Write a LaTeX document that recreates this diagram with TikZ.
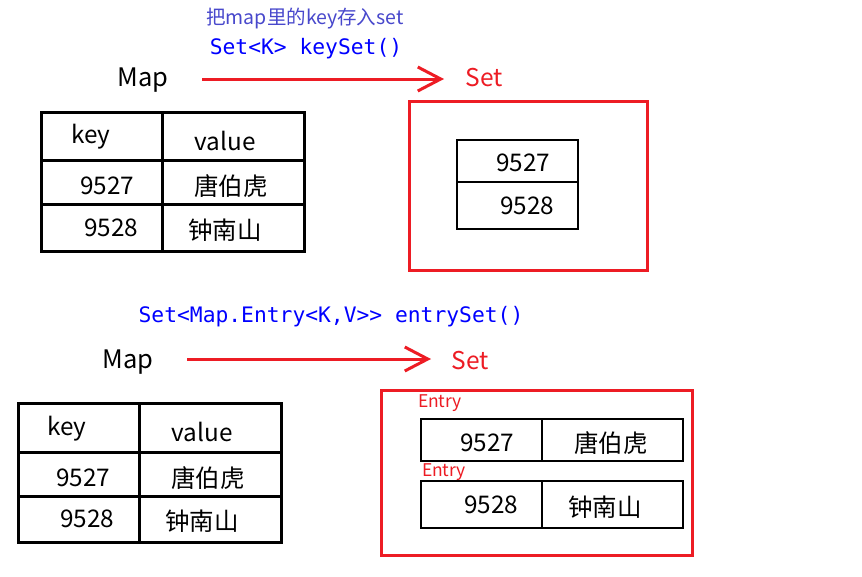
\documentclass[tikz,border=0pt]{standalone}
\usepackage{fontspec}
\setmainfont{Noto Sans CJK SC}
\newfontfamily\codefont{DejaVu Sans Mono}
\usetikzlibrary{arrows.meta}
\definecolor{pred}{HTML}{ED1C24}
\definecolor{codeblue}{HTML}{0000FF}
\definecolor{noteblue}{HTML}{4848CC}
\tikzset{
  txt/.style={inner sep=0pt, anchor=center, font=\fontsize{24.3}{24.3}\selectfont},
  cjk/.style={inner sep=0pt, anchor=center, font=\fontsize{24.5}{24.5}\selectfont},
  big/.style={inner sep=0pt, anchor=center, font=\fontsize{25.5}{25.5}\selectfont},
  redtxt/.style={inner sep=0pt, anchor=center, text=pred, font=\fontsize{24.5}{24.5}\selectfont},
  small/.style={inner sep=0pt, anchor=center, text=pred, font=\fontsize{17.5}{17.5}\selectfont},
  code/.style={inner sep=0pt, anchor=center, text=codeblue, font=\codefont\fontsize{21.3}{21.3}\selectfont},
  note/.style={inner sep=0pt, anchor=center, text=noteblue, font=\fontsize{19.5}{19.5}\selectfont},
  tbl/.style={draw=black, line width=3pt},
  redbox/.style={draw=pred, line width=3pt},
  arr/.style={draw=pred, line width=3pt, -{Straight Barb[length=23pt,width=24pt,line width=3pt]}},
}
\begin{document}
\begin{tikzpicture}[x=1pt,y=-1pt]
\path[use as bounding box, fill=white] (0,0) rectangle (862,576);

% ---------- top part ----------
\node[note] (note) at (305,19) {把map里的key存入set};
\node[code] (codeA) at (306,49) {Set<K> keySet()};
\node[big] (mapA) at (143,80) {Map};
\node[redtxt] (setA) at (484,78) {Set};
\coordinate (a1s) at (202,79);
\coordinate (a1e) at (444,79);
\draw[arr] (a1s) -- (a1e);

% table 1
\draw[tbl] (41,112) rectangle (304,251);
\draw[tbl] (162,112) -- (162,251);
\draw[tbl] (41,160) -- (304,160);
\draw[tbl] (41,204) -- (306,204);
\node[txt] (k1) at (91,137) {key};
\node[txt] (v1) at (225,141) {value};
\node[txt] (n11) at (107,186) {9527};
\node[cjk] (t11) at (231,186) {唐伯虎};
\node[txt] (n12) at (111,228) {9528};
\node[cjk] (t12) at (225,230) {钟南山};

% set box 1
\draw[redbox] (409,101) rectangle (647,270);
\draw[tbl, line width=2.6pt] (457,140) rectangle (578,229);
\draw[tbl, line width=2.6pt] (457,182) -- (578,182);
\node[txt] (s11) at (523,163) {9527};
\node[txt] (s12) at (527,206) {9528};

% ---------- bottom part ----------
\node[code] (codeB) at (331,317) {Set<Map.Entry<K,V>> entrySet()};
\node[big] (mapB) at (128,362) {Map};
\node[redtxt] (setB) at (470,361) {Set};
\coordinate (a2s) at (187,359);
\coordinate (a2e) at (431,359);
\draw[arr] (a2s) -- (a2e);

% table 2
\draw[tbl] (18,403) rectangle (281,542);
\draw[tbl] (139,403) -- (139,542);
\draw[tbl] (18,452) -- (281,452);
\draw[tbl] (18,496) -- (283,496);
\node[txt] (k2) at (67,429) {key};
\node[txt] (v2) at (202,432) {value};
\node[txt] (n21) at (83,478) {9527};
\node[cjk] (t21) at (208,478) {唐伯虎};
\node[txt] (n22) at (87,519) {9528};
\node[cjk] (t22) at (202,521) {钟南山};

% set box 2
\draw[redbox] (381,390) rectangle (692,555);
\node[small] (e1) at (440,403) {Entry};
\draw[tbl, line width=2.8pt] (421,419) rectangle (683,461);
\draw[tbl, line width=2.8pt] (542,419) -- (542,461);
\node[txt] (en1) at (487,443) {9527};
\node[cjk] (ev1) at (611,443) {唐伯虎};
\node[small] (e2) at (444,472) {Entry};
\draw[tbl, line width=2.8pt] (421,481) rectangle (683,528);
\draw[tbl, line width=2.8pt] (542,481) -- (542,528);
\node[txt] (en2) at (491,505) {9528};
\node[cjk] (ev2) at (605,507) {钟南山};
\end{tikzpicture}
\end{document}
